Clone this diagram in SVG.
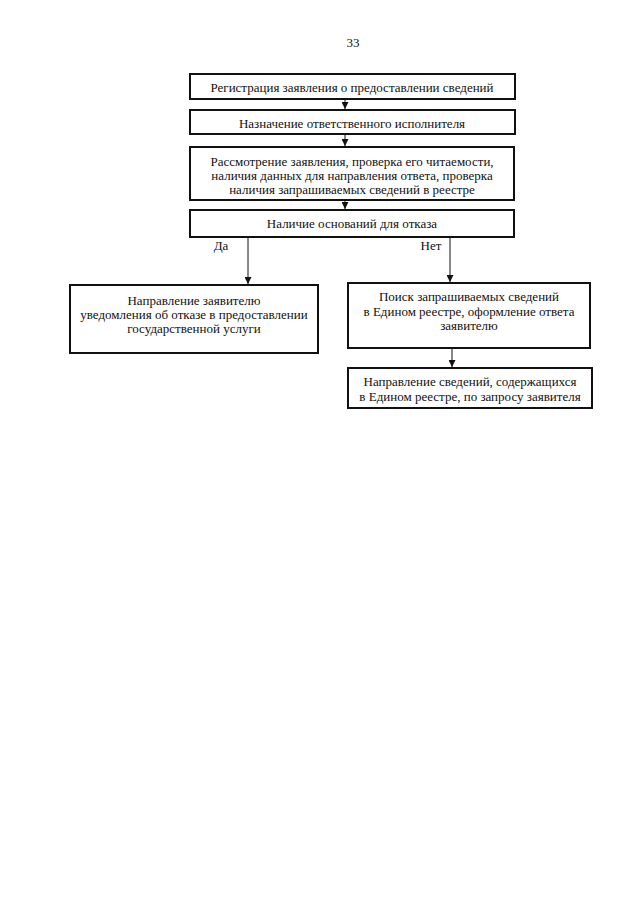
<svg xmlns="http://www.w3.org/2000/svg" width="640" height="905" viewBox="0 0 640 905">
<defs>
<marker id="ah" viewBox="0 0 8 8" refX="8" refY="4" markerWidth="7" markerHeight="7" markerUnits="userSpaceOnUse" orient="auto">
<path d="M0,0 L8,4 L0,8 Z" fill="#111"/>
</marker>
</defs>
<style>
.box{fill:#fff;stroke:#111;stroke-width:2}
.t{font-family:"Liberation Serif","Times New Roman",serif;font-size:13px;fill:#111;text-anchor:middle;dominant-baseline:central}
.c{stroke:#111;stroke-width:1;fill:none}
</style>
<rect width="640" height="905" fill="#fff"/>
<text class="t" x="353" y="42">33</text>
<g id="n1">
<rect class="box" x="190" y="74" width="325" height="25"/>
<text class="t" x="352" y="87">Регистрация заявления о предоставлении сведений</text>
</g>
<g id="n2">
<rect class="box" x="190" y="110" width="325" height="24"/>
<text class="t" x="352" y="123">Назначение ответственного исполнителя</text>
</g>
<g id="n3">
<rect class="box" x="190" y="147" width="324" height="53"/>
<text class="t" x="352" y="161">Рассмотрение заявления, проверка его читаемости,</text>
<text class="t" x="352" y="175">наличия данных для направления ответа, проверка</text>
<text class="t" x="352" y="189">наличия запрашиваемых сведений в реестре</text>
</g>
<g id="n4">
<rect class="box" x="190" y="210" width="324" height="27"/>
<text class="t" x="352" y="223">Наличие оснований для отказа</text>
</g>
<g id="n5">
<rect class="box" x="70" y="285" width="248" height="68"/>
<text class="t" x="194" y="300">Направление заявителю</text>
<text class="t" x="194" y="314">уведомления об отказе в предоставлении</text>
<text class="t" x="194" y="328">государственной услуги</text>
</g>
<g id="n6">
<rect class="box" x="348" y="283" width="242" height="65"/>
<text class="t" x="469" y="296">Поиск запрашиваемых сведений</text>
<text class="t" x="469" y="311">в Едином реестре, оформление ответа</text>
<text class="t" x="469" y="325">заявителю</text>
</g>
<g id="n7">
<rect class="box" x="348" y="368" width="244" height="40"/>
<text class="t" x="470" y="381">Направление сведений, содержащихся</text>
<text class="t" x="470" y="396">в Едином реестре, по запросу заявителя</text>
</g>
<g id="connectors">
<line class="c" x1="345" y1="100" x2="345" y2="109" marker-end="url(#ah)"/>
<line class="c" x1="345" y1="135" x2="345" y2="146" marker-end="url(#ah)"/>
<line class="c" x1="345" y1="201" x2="345" y2="209" marker-end="url(#ah)"/>
<line class="c" x1="248" y1="238" x2="248" y2="284" marker-end="url(#ah)"/>
<line class="c" x1="450" y1="238" x2="450" y2="282" marker-end="url(#ah)"/>
<line class="c" x1="452" y1="349" x2="452" y2="367" marker-end="url(#ah)"/>
<text class="t" x="221" y="245">Да</text>
<text class="t" x="431" y="245">Нет</text>
</g>
</svg>
